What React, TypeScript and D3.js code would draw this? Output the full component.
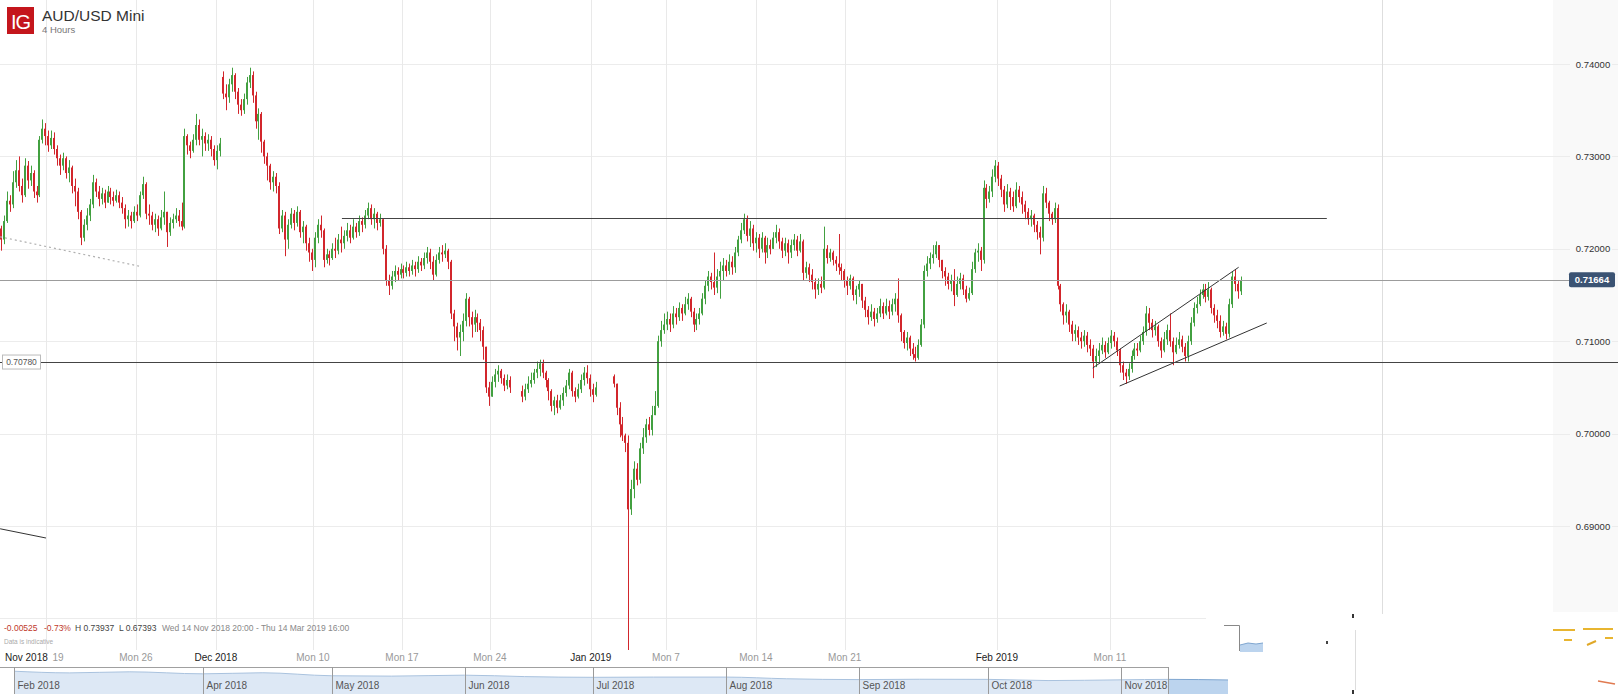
import React from "react";
import * as d3 from "d3";

const W = 1618;
const H = 694;
const FONT = "'Liberation Sans', Arial, sans-serif";

// 4-hour AUD/USD candles, prices in pips (x 1e-4). null = empty slot (holiday gap)
const closes: (number | null)[] = [
  7210, 7230, 7252, 7248, 7272, 7285, 7268, 7258, 7290, 7274,
  7282, 7262, 7258, 7318, 7330, 7322, 7312, 7320, 7308, 7298,
  7290, 7298, 7282, 7288, 7268, 7262, 7240, 7212, 7226, 7236,
  7248, 7272, 7262, 7254, 7260, 7250, 7262, 7256, 7252, 7258,
  7250, 7244, 7232, 7236, 7230, 7240, 7236, 7258, 7270, 7238,
  7236, 7226, 7232, 7222, 7234, 7240, 7218, 7228, 7232, 7236,
  7230, 7224, 7322, 7312, 7306, 7318, 7334, 7318, 7322, 7314,
  7318, 7308, 7296, 7306, 7314, 7368, 7364, 7378, 7388, 7370,
  7356, 7350, 7362, 7380, 7388, 7366, 7338, 7346, 7316, 7300,
  7290, 7272, 7278, 7268, 7222, 7236, 7210, 7226, 7238, 7228,
  7240, 7218, 7224, 7206, 7196, 7188, 7212, 7226, 7220, 7188,
  7194, 7190, 7200, 7198, 7210, 7206, 7214, 7220, 7212, 7224,
  7218, 7230, 7226, 7236, 7244, 7232, 7238, 7228, 7232, 7200,
  7166, 7160, 7170, 7176, 7172, 7178, 7174, 7180, 7176, 7182,
  7178, 7186, 7182, 7190, 7196, 7186, 7172, 7188, 7196, 7194,
  7198, 7186, 7130, 7116, 7104, 7110, 7122, 7146, 7126, 7118,
  7126, 7120, 7112, 7094, 7050, 7040, 7056, 7064, 7068, 7060,
  7052, 7058, 7050, null, null, null, 7040, 7048, 7054, 7058,
  7066, 7070, 7076, 7066, 7058, 7046, 7030, 7036, 7028, 7036,
  7044, 7052, 7066, 7046, 7040, 7048, 7058, 7066, 7060, 7048,
  7042, 7050, null, null, null, null, null, 7054, 7028, 7010,
  6998, 6990, 6918, 6940, 6962, 6950, 6984, 6996, 7010, 7004,
  7020, 7030, 7100, 7112, 7118, 7124, 7118, 7130, 7126, 7136,
  7130, 7140, 7146, 7132, 7118, 7124, 7130, 7146, 7160, 7170,
  7164, 7158, 7170, 7176, 7182, 7176, 7186, 7180, 7196, 7210,
  7220, 7232, 7214, 7222, 7206, 7212, 7200, 7212, 7196, 7204,
  7200, 7212, 7218, 7208, 7198, 7206, 7196, 7204, 7210, 7198,
  7208, 7174, 7180, 7172, 7164, 7156, 7162, 7158, 7200, 7190,
  7196, 7188, 7184, 7180, 7176, 7166, 7160, 7168, 7150, 7156,
  7162, 7144, 7134, 7126, 7132, 7124, 7130, 7138, 7130, 7138,
  7132, 7140, 7146, 7128, 7110, 7098, 7104, 7092, 7086, 7082,
  7096, 7118, 7176, 7184, 7190, 7194, 7204, 7188, 7176, 7170,
  7162, 7166, 7150, 7162, 7168, 7156, 7146, 7152, 7178, 7196,
  7198, 7188, 7266, 7254, 7262, 7278, 7290, 7276, 7264, 7248,
  7262, 7256, 7246, 7264, 7256, 7248, 7240, 7232, 7236, 7226,
  7218, 7212, 7260, 7250, 7238, 7232, 7244, 7160, 7140, 7128,
  7132, 7118, 7108, 7112, 7104, 7100, 7106, 7096, 7092, 7078,
  7084, 7090, 7096, 7088, 7098, 7106, 7100, 7090, 7074, 7066,
  7062, 7070, 7084, 7092, 7090, 7100, 7110, 7130, 7120, 7112,
  7116, 7100, 7090, 7102, 7112, 7100, 7088, 7096, 7102, 7094,
  7084, 7100, 7120, 7136, 7140, 7150, 7156, 7148, 7156, 7136,
  7128, 7122, 7110, 7116, 7108, 7140, 7170, 7162, 7154, 7166,
];

const highs: (number | null)[] = [
  7225, 7236, 7262, 7258, 7284, 7296, 7300, 7276, 7298, 7295,
  7290, 7285, 7268, 7322, 7340, 7336, 7328, 7328, 7326, 7312,
  7302, 7304, 7300, 7296, 7290, 7276, 7266, 7242, 7232, 7244,
  7254, 7280, 7276, 7268, 7266, 7264, 7268, 7266, 7262, 7264,
  7262, 7256, 7248, 7242, 7240, 7246, 7248, 7262, 7278, 7272,
  7248, 7240, 7238, 7236, 7242, 7262, 7240, 7234, 7238, 7244,
  7242, 7250, 7330, 7324, 7316, 7324, 7346, 7340, 7330, 7326,
  7324, 7322, 7312, 7312, 7320, 7392, 7378, 7384, 7396, 7390,
  7374, 7362, 7368, 7386, 7396, 7392, 7370, 7352, 7348, 7318,
  7304, 7292, 7284, 7282, 7272, 7242, 7240, 7232, 7244, 7242,
  7246, 7242, 7230, 7226, 7212, 7200, 7218, 7232, 7236, 7222,
  7200, 7198, 7206, 7212, 7216, 7224, 7220, 7228, 7226, 7232,
  7228, 7236, 7234, 7242, 7250, 7248, 7244, 7240, 7238, 7232,
  7204, 7172, 7176, 7182, 7180, 7184, 7182, 7186, 7184, 7188,
  7186, 7192, 7190, 7196, 7202, 7200, 7192, 7194, 7202, 7204,
  7206, 7200, 7188, 7134, 7120, 7118, 7130, 7152, 7148, 7132,
  7134, 7130, 7124, 7116, 7094, 7056, 7062, 7070, 7074, 7070,
  7064, 7064, 7062, null, null, null, 7052, 7054, 7062, 7066,
  7070, 7078, 7080, 7080, 7068, 7060, 7048, 7040, 7042, 7042,
  7050, 7058, 7070, 7068, 7050, 7054, 7064, 7072, 7074, 7064,
  7054, 7056, null, null, null, null, null, 7064, 7054, 7034,
  7018, 7000, 6998, 6950, 6970, 6968, 6990, 7006, 7016, 7018,
  7030, 7046, 7106, 7122, 7130, 7132, 7130, 7138, 7136, 7142,
  7140, 7148, 7152, 7148, 7136, 7130, 7136, 7152, 7166, 7176,
  7174, 7196, 7178, 7186, 7190, 7188, 7194, 7192, 7202, 7214,
  7228, 7238, 7236, 7230, 7226, 7218, 7216, 7218, 7214, 7212,
  7210, 7218, 7226, 7222, 7212, 7212, 7210, 7210, 7216, 7214,
  7216, 7210, 7186, 7184, 7178, 7168, 7168, 7170, 7224, 7204,
  7200, 7198, 7192, 7216, 7184, 7178, 7170, 7172, 7170, 7160,
  7166, 7162, 7148, 7138, 7140, 7136, 7136, 7146, 7142, 7146,
  7144, 7146, 7152, 7168, 7130, 7112, 7110, 7106, 7098, 7094,
  7102, 7124, 7182, 7192, 7196, 7204, 7208, 7204, 7186, 7180,
  7174, 7172, 7178, 7170, 7174, 7172, 7160, 7158, 7186, 7200,
  7206, 7202, 7274, 7270, 7268, 7286, 7296, 7294, 7280, 7268,
  7270, 7266, 7262, 7272, 7268, 7262, 7252, 7244, 7242, 7238,
  7230, 7224, 7268, 7266, 7252, 7240, 7250, 7248, 7162, 7142,
  7140, 7134, 7122, 7118, 7116, 7110, 7112, 7110, 7102, 7096,
  7092, 7098, 7104, 7100, 7104, 7112, 7110, 7104, 7092, 7078,
  7070, 7076, 7090, 7098, 7098, 7106, 7116, 7138, 7136, 7124,
  7122, 7118, 7104, 7110, 7118, 7130, 7104, 7104, 7110, 7106,
  7098, 7106, 7126, 7142, 7148, 7156, 7162, 7162, 7164, 7158,
  7140, 7134, 7128, 7122, 7120, 7146, 7176, 7178, 7166, 7170,
];

const lows: (number | null)[] = [
  7198, 7205, 7228, 7240, 7244, 7266, 7262, 7250, 7256, 7265,
  7268, 7255, 7250, 7256, 7314, 7312, 7305, 7308, 7302, 7290,
  7280, 7285, 7276, 7272, 7260, 7246, 7232, 7204, 7208, 7220,
  7230, 7244, 7256, 7246, 7248, 7244, 7250, 7248, 7246, 7250,
  7244, 7238, 7222, 7224, 7222, 7228, 7230, 7234, 7254, 7232,
  7226, 7220, 7218, 7214, 7220, 7226, 7202, 7214, 7222, 7228,
  7224, 7220, 7222, 7302, 7298, 7304, 7312, 7312, 7300, 7306,
  7306, 7300, 7290, 7286, 7300, 7362, 7350, 7358, 7370, 7362,
  7346, 7344, 7346, 7356, 7374, 7358, 7330, 7318, 7304, 7292,
  7274, 7264, 7262, 7260, 7216, 7218, 7192, 7200, 7222, 7220,
  7224, 7212, 7206, 7198, 7186, 7176, 7180, 7206, 7212, 7180,
  7184, 7182, 7188, 7190, 7194, 7196, 7200, 7208, 7206, 7210,
  7212, 7214, 7218, 7222, 7232, 7226, 7222, 7220, 7224, 7194,
  7160, 7150, 7156, 7164, 7166, 7168, 7168, 7170, 7170, 7172,
  7170, 7174, 7176, 7178, 7184, 7178, 7166, 7170, 7184, 7186,
  7190, 7178, 7124, 7100, 7090, 7084, 7100, 7116, 7116, 7104,
  7110, 7110, 7100, 7080, 7044, 7030, 7040, 7050, 7056, 7054,
  7046, 7048, 7044, null, null, null, 7034, 7036, 7044, 7050,
  7054, 7060, 7062, 7060, 7050, 7036, 7024, 7020, 7022, 7026,
  7030, 7040, 7048, 7040, 7034, 7038, 7044, 7052, 7054, 7040,
  7034, 7040, null, null, null, null, null, 7050, 7020, 6996,
  6992, 6980, 6739, 6912, 6930, 6944, 6946, 6978, 6990, 6998,
  6998, 7024, 7028, 7094, 7108, 7112, 7110, 7114, 7118, 7122,
  7122, 7128, 7134, 7126, 7110, 7112, 7118, 7128, 7140, 7154,
  7156, 7150, 7152, 7146, 7166, 7170, 7172, 7172, 7174, 7192,
  7206, 7216, 7208, 7202, 7198, 7196, 7190, 7196, 7184, 7190,
  7194, 7200, 7206, 7200, 7190, 7192, 7184, 7190, 7198, 7192,
  7196, 7166, 7168, 7164, 7156, 7146, 7150, 7152, 7156, 7184,
  7186, 7182, 7176, 7172, 7166, 7158, 7150, 7156, 7144, 7140,
  7148, 7136, 7126, 7118, 7122, 7116, 7120, 7126, 7124, 7128,
  7124, 7128, 7132, 7120, 7100, 7092, 7090, 7084, 7080, 7078,
  7080, 7094, 7114, 7170, 7178, 7184, 7190, 7180, 7168, 7160,
  7156, 7154, 7138, 7148, 7156, 7150, 7142, 7144, 7150, 7174,
  7186, 7176, 7184, 7244, 7250, 7256, 7272, 7268, 7256, 7240,
  7244, 7242, 7240, 7244, 7250, 7238, 7232, 7226, 7224, 7218,
  7210, 7194, 7208, 7244, 7230, 7226, 7228, 7156, 7132, 7118,
  7120, 7110, 7100, 7100, 7096, 7092, 7094, 7088, 7084, 7060,
  7072, 7076, 7086, 7082, 7086, 7092, 7094, 7084, 7066, 7058,
  7054, 7058, 7066, 7080, 7084, 7088, 7096, 7106, 7112, 7104,
  7106, 7094, 7082, 7088, 7096, 7094, 7074, 7086, 7092, 7088,
  7078, 7078, 7096, 7116, 7130, 7138, 7146, 7142, 7144, 7130,
  7120, 7114, 7104, 7106, 7102, 7104, 7136, 7154, 7146, 7150,
];

const firstOpen = 7222;
// opens after weekend / holiday gaps: [slot, open]
const gapOpens: [number, number][] = [
  [75, 7386],
  [176, 7046],
  [207, 7062],
];

const priceTicks = [0.68, 0.69, 0.7, 0.71, 0.72, 0.73, 0.74];
const lastPrice = 0.71664;
const supportLevel = 0.7078;
const resistanceLevel = 0.7233;

// time axis: slot positions of labels / gridlines
const gridSlots = [15.2, 45.6, 72.6, 105.4, 135.5, 165.2, 199.3, 224.7, 255.1, 285.1, 336.5, 374.7];
const farGridSlot = 466.6;
const timeLabels: { slot: number; text: string; major: boolean }[] = [
  { slot: 19.3, text: "19", major: false },
  { slot: 45.6, text: "Mon 26", major: false },
  { slot: 72.6, text: "Dec 2018", major: true },
  { slot: 105.4, text: "Mon 10", major: false },
  { slot: 135.5, text: "Mon 17", major: false },
  { slot: 165.2, text: "Mon 24", major: false },
  { slot: 199.3, text: "Jan 2019", major: true },
  { slot: 224.7, text: "Mon 7", major: false },
  { slot: 255.1, text: "Mon 14", major: false },
  { slot: 285.1, text: "Mon 21", major: false },
  { slot: 336.5, text: "Feb 2019", major: true },
  { slot: 374.7, text: "Mon 11", major: false },
];
const firstLabel = "Nov 2018";

// drawn trend lines: [slot, price] pairs
const dottedTrend: [number, number][] = [[-0.3, 0.7213], [47, 0.7181]];
const lowerLeftTrend: [number, number][] = [[-0.3, 0.6897], [15.2, 0.6887]];
const channelUpper: [number, number][] = [[368.9, 0.7071], [418.2, 0.718]];
const channelLower: [number, number][] = [[378, 0.70515], [427.7, 0.71197]];
const resistanceSpan: [number, number] = [115.2, 448];

// navigator (long history)
const navDates = [
  "2018-02-16", "2018-03-01", "2018-03-15", "2018-04-01", "2018-04-15", "2018-05-01",
  "2018-05-15", "2018-06-01", "2018-06-15", "2018-07-01", "2018-07-15", "2018-08-01",
  "2018-08-15", "2018-09-01", "2018-09-15", "2018-10-01", "2018-10-15", "2018-11-01",
  "2018-11-12", "2018-11-26",
];
const navValues = [
  0.79, 0.776, 0.785, 0.768, 0.777, 0.752, 0.749, 0.757, 0.745, 0.739, 0.741, 0.741,
  0.727, 0.72, 0.723, 0.722, 0.712, 0.718, 0.722, 0.717,
];
const navMonths = [
  { date: "2018-02-16", text: "Feb 2018" },
  { date: "2018-04-01", text: "Apr 2018" },
  { date: "2018-05-01", text: "May 2018" },
  { date: "2018-06-01", text: "Jun 2018" },
  { date: "2018-07-01", text: "Jul 2018" },
  { date: "2018-08-01", text: "Aug 2018" },
  { date: "2018-09-01", text: "Sep 2018" },
  { date: "2018-10-01", text: "Oct 2018" },
  { date: "2018-11-01", text: "Nov 2018" },
];
const navEnd = "2018-11-12";

const GREEN = "#42a040";
const RED = "#d2262c";

export default function App() {
  const x = d3.scaleLinear().domain([0, 419]).range([1, 1241]);
  const y = d3.scaleLinear().domain([0.69, 0.74]).range([526, 64]);
  const pip = (v: number) => v / 10000;

  const gapMap = new Map(gapOpens);
  const candles: { i: number; o: number; c: number; h: number; l: number }[] = [];
  let prev = firstOpen;
  closes.forEach((cv, i) => {
    if (cv == null) return;
    const o = gapMap.has(i) ? (gapMap.get(i) as number) : prev;
    const c = cv;
    const h = Math.max(highs[i] as number, o, c);
    const l = Math.min(lows[i] as number, o, c);
    candles.push({ i, o: pip(o), c: pip(c), h: pip(h), l: pip(l) });
    prev = c;
  });

  const parse = d3.timeParse("%Y-%m-%d");
  const navX = d3
    .scaleTime()
    .domain([parse("2018-02-16") as Date, parse("2018-11-01") as Date])
    .range([14, 1121]);
  const navY = d3.scaleLinear().domain([0.6, 0.8]).range([694, 670]);
  const navPts = navDates.map((d, k) => ({ d: parse(d) as Date, v: navValues[k] }));
  const navArea = d3
    .area<{ d: Date; v: number }>()
    .x((p) => navX(p.d))
    .y0(694)
    .y1((p) => navY(p.v))
    .curve(d3.curveMonotoneX);
  const navLine = d3
    .line<{ d: Date; v: number }>()
    .x((p) => navX(p.d))
    .y((p) => navY(p.v))
    .curve(d3.curveMonotoneX);
  const navEndX = navX(parse(navEnd) as Date);

  const seg = (pts: [number, number][]) => ({
    x1: x(pts[0][0]),
    y1: y(pts[0][1]),
    x2: x(pts[1][0]),
    y2: y(pts[1][1]),
  });

  const plotBottom = 650;
  const yLast = y(lastPrice);
  const ySupport = y(supportLevel);
  const yRes = y(resistanceLevel);

  return (
    <div style={{ position: "absolute", left: 0, top: 0, width: W, height: H, background: "#fff" }}>
      <svg width={W} height={H} style={{ display: "block" }} fontFamily={FONT}>
        <defs>
          <clipPath id="plotClip">
            <rect x={0} y={0} width={W} height={plotBottom} />
          </clipPath>
          <clipPath id="navSel">
            <rect x={navEndX} y={660} width={80} height={40} />
          </clipPath>
          <clipPath id="navMain">
            <rect x={0} y={660} width={navEndX} height={40} />
          </clipPath>
        </defs>
        <rect x={0} y={0} width={W} height={H} fill="#ffffff" />
        <rect x={1553} y={0} width={W - 1553} height={612} fill="#f9f9f9" />

        {/* horizontal gridlines */}
        {priceTicks.map((t) => (
          <g key={"hg" + t}>
            <line x1={0} x2={1570} y1={Math.round(y(t)) + 0.5} y2={Math.round(y(t)) + 0.5} stroke="#ececec" />
            <line x1={1612} x2={W} y1={Math.round(y(t)) + 0.5} y2={Math.round(y(t)) + 0.5} stroke="#ececec" />
          </g>
        ))}
        {/* vertical gridlines */}
        {gridSlots.map((s) => (
          <line key={"vg" + s} x1={Math.round(x(s)) + 0.5} x2={Math.round(x(s)) + 0.5} y1={0} y2={plotBottom} stroke="#e9e9e9" />
        ))}
        <line x1={Math.round(x(farGridSlot)) + 0.5} x2={Math.round(x(farGridSlot)) + 0.5} y1={0} y2={614} stroke="#dedede" />

        {/* price axis labels */}
        {priceTicks
          .filter((t) => t >= 0.69)
          .map((t) => (
            <text key={"pl" + t} x={1593} y={y(t) + 3.5} fontSize={9.5} fill="#333" textAnchor="middle">
              {t.toFixed(5)}
            </text>
          ))}

        {/* candles */}
        <g clipPath="url(#plotClip)">
          {candles.map((k) => {
            const cx = Math.round(x(k.i));
            const up = k.c > k.o;
            const col = up ? GREEN : RED;
            const top = y(Math.max(k.o, k.c));
            const bot = y(Math.min(k.o, k.c));
            return (
              <g key={"c" + k.i}>
                <rect x={cx} y={y(k.h)} width={1} height={Math.max(1, y(k.l) - y(k.h))} fill={col} />
                <rect x={cx - 1} y={top} width={2} height={Math.max(1, bot - top)} fill={col} />
              </g>
            );
          })}
        </g>

        {/* drawn lines */}
        <line {...seg(dottedTrend)} stroke="#b0b0b0" strokeWidth={1.2} strokeDasharray="2,3" />
        <line {...seg(lowerLeftTrend)} stroke="#333" strokeWidth={1} />
        <line {...seg(channelUpper)} stroke="#333" strokeWidth={1} />
        <line {...seg(channelLower)} stroke="#333" strokeWidth={1} />
        <line
          x1={x(resistanceSpan[0])}
          x2={x(resistanceSpan[1])}
          y1={Math.round(yRes) + 0.5}
          y2={Math.round(yRes) + 0.5}
          stroke="#444"
          strokeWidth={1}
        />
        <line x1={0} x2={1569} y1={Math.round(yLast) + 0.5} y2={Math.round(yLast) + 0.5} stroke="#9c9c9c" strokeWidth={1} />
        <line x1={0} x2={W} y1={Math.round(ySupport) + 0.5} y2={Math.round(ySupport) + 0.5} stroke="#444" strokeWidth={1} />

        {/* support label */}
        <rect x={2.5} y={ySupport - 6.5} width={38} height={14} fill="#fff" stroke="#bbb" />
        <text x={21.5} y={ySupport + 3.5} fontSize={8.5} fill="#555" textAnchor="middle">
          {supportLevel.toFixed(5)}
        </text>

        {/* last price label */}
        <rect x={1569} y={yLast - 7.5} width={46} height={15} rx={2} fill="#3b5373" />
        <text x={1592} y={yLast + 3.5} fontSize={9.5} fontWeight="bold" fill="#fff" textAnchor="middle">
          {lastPrice.toFixed(5)}
        </text>

        {/* header */}
        <rect x={7} y={7} width={27} height={27} fill="#c4161c" />
        <text x={20.5} y={28.5} fontSize={20} fill="#fff" textAnchor="middle" letterSpacing={-1}>
          IG
        </text>
        <text x={42} y={20.5} fontSize={15.5} fill="#333">
          AUD/USD Mini
        </text>
        <text x={42} y={32.5} fontSize={9.5} fill="#777">
          4 Hours
        </text>

        {/* stats row */}
        <text x={4} y={631} fontSize={8.5} fill="#c0392b">-0.00525</text>
        <text x={44} y={631} fontSize={8.5} fill="#c0392b">-0.73%</text>
        <text x={75} y={631} fontSize={8.5} fill="#444">H 0.73937</text>
        <text x={119} y={631} fontSize={8.5} fill="#444">L 0.67393</text>
        <text x={162} y={631} fontSize={8.5} fill="#888">
          Wed 14 Nov 2018 20:00 - Thu 14 Mar 2019 16:00
        </text>
        <text x={4} y={644} fontSize={6.5} fill="#aaa">Data is indicative</text>

        {/* time axis labels */}
        <text x={5} y={661} fontSize={10} fill="#222">{firstLabel}</text>
        {timeLabels.map((t) => (
          <text key={"tl" + t.text} x={x(t.slot)} y={661} fontSize={10} fill={t.major ? "#222" : "#999"} textAnchor="middle">
            {t.text}
          </text>
        ))}

        {/* navigator */}
        <line x1={0} x2={navEndX} y1={667.5} y2={667.5} stroke="#a0a0a0" />
        <path d={navArea(navPts) || ""} fill="#dde8f5" clipPath="url(#navMain)" />
        <path d={navLine(navPts) || ""} fill="none" stroke="#a9c2de" strokeWidth={1} clipPath="url(#navMain)" />
        <path d={navArea(navPts) || ""} fill="#bcd4ee" clipPath="url(#navSel)" />
        <path d={navLine(navPts) || ""} fill="none" stroke="#7fa6d0" strokeWidth={1} clipPath="url(#navSel)" />
        {navMonths.map((m) => {
          const mx = Math.round(navX(parse(m.date) as Date)) + 0.5;
          return (
            <g key={"nm" + m.text}>
              <line x1={mx} x2={mx} y1={667} y2={H} stroke="#9a9a9a" />
              <text x={mx + 3} y={689} fontSize={10} fill="#555">
                {m.text}
              </text>
            </g>
          );
        })}
        <line x1={Math.round(navEndX) + 0.5} x2={Math.round(navEndX) + 0.5} y1={667} y2={H} stroke="#9a9a9a" />

        {/* blank lower-right region and screenshot remnants */}
        <rect x={1206} y={614} width={W - 1206} height={50} fill="#fff" />
        <rect x={1228} y={664} width={W - 1228} height={H - 664} fill="#fff" />
        <path d="M1224,625.5 H1239.5 V651" fill="none" stroke="#888" />
        <path d="M1240,645 L1248,643 L1256,644 L1263,643 L1263,652 L1240,652 Z" fill="#bcd4ee" stroke="none" />
        <path d="M1240,645 L1248,643 L1256,644 L1263,643" fill="none" stroke="#7fa6d0" />
        <line x1={1355.5} x2={1355.5} y1={630} y2={690} stroke="#ddd" />
        <rect x={1352} y={614} width={2} height={4} fill="#333" />
        <rect x={1326} y={641} width={2} height={3} fill="#444" />
        <rect x={1352} y={690} width={2} height={4} fill="#333" />
        <rect x={1553} y={629} width={22} height={2} fill="#e8b530" />
        <rect x={1583} y={628} width={30} height={2} fill="#e8b530" />
        <rect x={1564} y={639} width={8} height={2} fill="#e8b530" />
        <line x1={1587} y1={645} x2={1596} y2={641} stroke="#e0a828" strokeWidth={2} />
        <rect x={1605} y={637} width={8} height={2} fill="#e8b530" />
        <line x1={1598} y1={681} x2={1615} y2={684} stroke="#e07a50" strokeWidth={1.5} />
      </svg>
    </div>
  );
}
